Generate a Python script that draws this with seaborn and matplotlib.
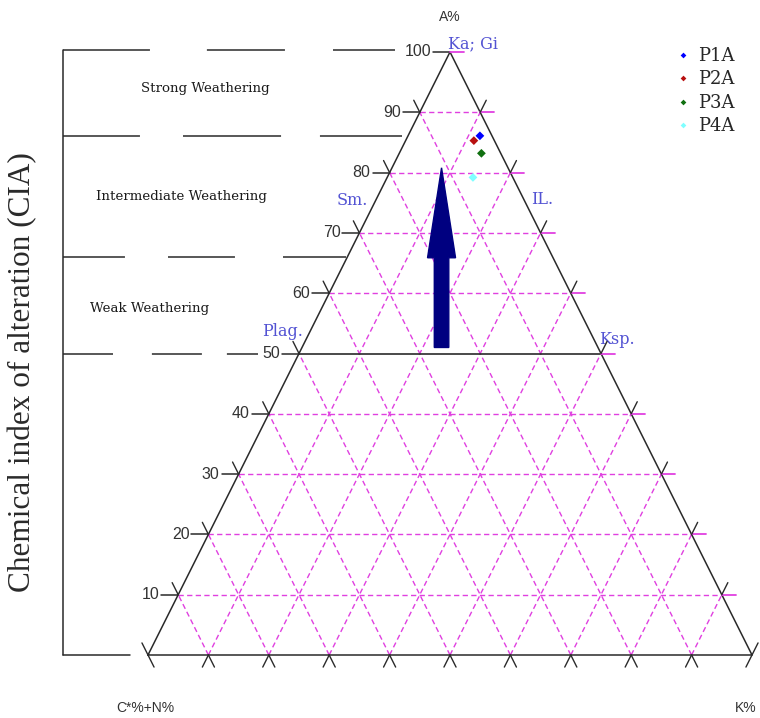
import numpy as np
import pandas as pd
import matplotlib
matplotlib.use("Agg")
import matplotlib.pyplot as plt
import seaborn as sns

# ---------------- data ----------------
samples = ["P1A", "P2A", "P3A", "P4A"]
a_pct = [86.1, 85.3, 83.2, 79.2]      # A%  (Al2O3)
cn_pct = [2.0, 3.4, 3.2, 6.6]         # C*%+N%
k_pct = [11.9, 11.3, 13.6, 14.2]      # K%
sample_colors = ["#0000ff", "#b81010", "#107010", "#80ffff"]

a_tick_values = [10, 20, 30, 40, 50, 60, 70, 80, 90, 100]
grid_levels = [10, 20, 30, 40, 50, 60, 70, 80, 90]
cia_boundaries = [100.3, 86.0, 66.0, 50.0, 0.0]
zone_names = ["Strong Weathering", "Intermediate Weathering", "Weak Weathering"]
zone_cia = [94.0, 76.1, 57.5]
mineral_names = ["Ka; Gi", "Sm.", "IL.", "Plag.", "Ksp."]
mineral_a = [100.0, 75.3, 75.6, 53.6, 52.4]
mineral_side = ["apex", "left", "right", "left", "right"]
arrow_cia = [51.0, 80.8]
arrow_k_minus_cn = -2.8

# ---------------- layout ----------------
X0, XW, YB, YH = 148.0, 604.0, 655.0, 603.0
BLUE = "#5353d3"
MAG = "#e040e0"
DARK = "#2a2a2a"


def tern(a, k):
    a = np.asarray(a, float)
    k = np.asarray(k, float)
    return X0 + XW * (k + a / 2.0) / 100.0, YB - YH * a / 100.0


sns.set_theme(style="white")
plt.rcParams["lines.scale_dashes"] = False
plt.rcParams["font.family"] = ["DejaVu Serif"]

fig = plt.figure(figsize=(7.6, 7.18), dpi=100)
ax = fig.add_axes([0, 0, 1, 1])
ax.set_xlim(0, 760)
ax.set_ylim(718, 0)
ax.axis("off")

# unit directions
lside = np.array([XW / 2, -YH]); lside /= np.hypot(*lside)   # up-right (parallel left side)
rside = np.array([-XW / 2, -YH]); rside /= np.hypot(*rside)  # up-left (parallel right side)
TL = 13.5

# grid lines
gdash = (0, (3.8, 2.4))
for g in grid_levels:
    # constant A
    x1, y1 = tern(g, 0)
    x2, y2 = tern(g, 100 - g)
    if g == 50:
        ax.plot([x1, x2], [y1, y2], color=DARK, lw=1.2, zorder=3)
    else:
        ax.plot([x1, x2], [y1, y2], color=MAG, lw=1.0, ls=gdash, zorder=2)
    # constant K
    x1, y1 = tern(0, g)
    x2, y2 = tern(100 - g, g)
    ax.plot([x1, x2], [y1, y2], color=MAG, lw=1.0, ls=gdash, zorder=2)
    # constant CN
    x1, y1 = tern(0, 100 - g)
    x2, y2 = tern(100 - g, 0)
    ax.plot([x1, x2], [y1, y2], color=MAG, lw=1.0, ls=gdash, zorder=2)

# triangle
tx, ty = tern([0, 100, 0, 0], [0, 0, 100, 0])
ax.plot(tx, ty, color=DARK, lw=1.1, zorder=4)

# ticks on the left side (A axis) and right side
for v in [0] + a_tick_values:
    xl, yl = tern(v, 0)
    xr, yr = tern(v, 100 - v)
    if v > 0:
        ax.plot([xl - 17, xl], [yl, yl], color=DARK, lw=1.1, zorder=4)
        ax.plot([xr, xr + 14], [yr, yr], color=MAG, lw=1.3, zorder=4)
        ax.text(xl - 19, yl, f"{v}", ha="right", va="center", fontsize=11.5,
                family="Liberation Sans", color="#333333")
    if v < 100:
        ax.plot([xl, xl + rside[0] * TL], [yl, yl + rside[1] * TL], color=DARK, lw=1.0, zorder=4)
        ax.plot([xr, xr + lside[0] * TL], [yr, yr + lside[1] * TL], color=DARK, lw=1.0, zorder=4)

# ticks on the bottom
for kv in [0] + grid_levels + [100]:
    xb, yb = tern(0, kv)
    if kv > 0:
        ax.plot([xb, xb - lside[0] * TL], [yb, yb - lside[1] * TL], color=DARK, lw=1.0, zorder=4)
    if kv < 100:
        ax.plot([xb, xb - rside[0] * TL], [yb, yb - rside[1] * TL], color=DARK, lw=1.0, zorder=4)

# CIA bracket on the left
bx = 63
_, ytop = tern(cia_boundaries[0], 0)
_, ybot = tern(cia_boundaries[-1], 0)
ax.plot([bx, bx], [ytop, ybot], color=DARK, lw=1.1)
bracket_ends = [395, 402, 346, 258, 130]
bracket_dashes = [(0, (62.6, 41, 56.2, 34.6, 60, 200)),
                  (0, (55.4, 31, 70.6, 28, 60, 200)),
                  (0, (44.6, 31, 48.2, 34.6, 50, 200)),
                  (0, (36, 28, 36, 18, 40, 200)),
                  "-"]
for cb, xe, dsh in zip(cia_boundaries, bracket_ends, bracket_dashes):
    _, yc = tern(cb, 0)
    ax.plot([bx, xe], [yc, yc], color=DARK, lw=1.1, ls=dsh)

zone_x = [205, 181, 150]
for name, cz, zx in zip(zone_names, zone_cia, zone_x):
    _, yz = tern(cz, 0)
    ax.text(zx, yz, name, ha="center", va="center", fontsize=9.6, color="#1a1a1a")

ax.text(23, 372, "Chemical index of alteration (CIA)", rotation=90, ha="center",
        va="center", fontsize=22.5, family="Liberation Serif", color="#2a2a2a")

# mineral labels
offsets = {"apex": (23, -8), "left": (-23, 0), "right": (18, 0)}
for name, av, side in zip(mineral_names, mineral_a, mineral_side):
    if side == "right":
        x, y = tern(av, 100 - av)
    else:
        x, y = tern(av, 0)
    dx, dy = offsets[side]
    if name == "Plag.":
        dx = -27
    if name == "Ksp.":
        dx = 23
    ax.text(x + dx, y + dy, name, ha="center", va="center", fontsize=11.5, color=BLUE)

# arrow
ka0 = (100 - arrow_cia[0] + arrow_k_minus_cn) / 2
xa, ya0 = tern(arrow_cia[0], ka0)
_, ya1 = tern(arrow_cia[1], (100 - arrow_cia[1] + arrow_k_minus_cn) / 2)
ax.arrow(xa, ya0, 0, ya1 - ya0, width=14.5, head_width=28, head_length=90,
         length_includes_head=True, color="#000080", zorder=5)

# sample points
px, py = tern(a_pct, k_pct)
df = pd.DataFrame({"x": px, "y": py, "sample": samples})
sns.scatterplot(data=df, x="x", y="y", hue="sample", palette=sample_colors,
                marker="D", s=20, linewidth=0, ax=ax, zorder=6, legend=True)
ax.set_xlabel("")
ax.set_ylabel("")
handles, labels = ax.get_legend_handles_labels()
ax.legend(handles, labels, loc="upper left", bbox_to_anchor=(669 / 760, 1 - 38 / 718),
          frameon=False, handlelength=0.6, handletextpad=0.5, labelspacing=0.3,
          borderpad=0, prop={"family": "DejaVu Serif", "size": 13}, markerscale=0.65)

# axis end labels
ax.text(450, 17, "A%", ha="center", va="center", fontsize=10, family="Liberation Sans", color="#333333")
ax.text(145, 708, "C*%+N%", ha="center", va="center", fontsize=10, family="Liberation Sans", color="#333333")
ax.text(756, 708, "K%", ha="right", va="center", fontsize=10, family="Liberation Sans", color="#333333")

fig.savefig("out.png", dpi=100)
